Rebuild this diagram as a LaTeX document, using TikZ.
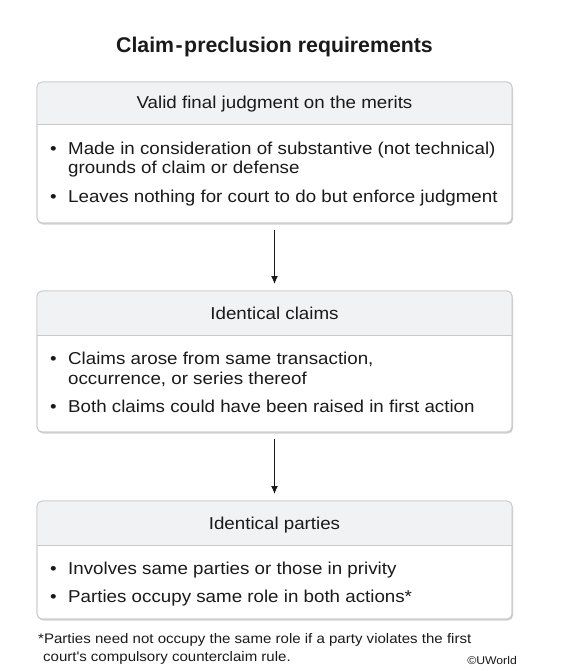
\documentclass[tikz,border=0pt]{standalone}
\usepackage{fontspec}
\setmainfont{Liberation Sans}
\newfontfamily\widefont{Liberation Sans}[FakeStretch=1.09]
\usetikzlibrary{shadows,arrows.meta}
\definecolor{headfill}{HTML}{F1F2F4}
\definecolor{boxline}{HTML}{C9C9C9}
\definecolor{txt}{HTML}{1A1A1A}
\tikzset{
  x=1pt, y=-1pt,
  boxshape/.style={draw=boxline, line width=0.8pt, fill=white, rounded corners=5pt,
    drop shadow={opacity=0.35, shadow xshift=1pt, shadow yshift=-1.5pt}},
  bodytext/.style={anchor=base west, inner sep=0pt, font=\widefont\fontsize{17.2}{20}\selectfont, text=txt},
  headtext/.style={anchor=base, inner sep=0pt, font=\widefont\fontsize{17.2}{20}\selectfont, text=txt},
  bul/.style={anchor=base west, inner sep=0pt, font=\widefont\fontsize{17.2}{20}\selectfont, text=txt},
  arr/.style={-{Latex[length=8pt,width=7pt]}, line width=1pt, draw=txt},
  foot/.style={anchor=base west, inner sep=0pt, font=\widefont\fontsize{13.8}{15}\selectfont, text=txt},
}
\newcommand{\mybox}[4]{% name, top, headbottom, bottom
  \path[boxshape] (37,#2) rectangle (512,#4);
  \begin{scope}
    \clip[rounded corners=5pt] (37,#2) rectangle (512,#4);
    \fill[headfill] (37,#2) rectangle (512,#3);
  \end{scope}
  \draw[boxline, line width=0.8pt] (37,#3) -- (512,#3);
  \node[draw=boxline, line width=0.8pt, rounded corners=5pt, inner sep=0pt, outer sep=0pt,
        minimum width=475pt, minimum height=#4-#2 pt, anchor=north west] (#1) at (37,#2) {};
}
\begin{document}
\begin{tikzpicture}
\useasboundingbox[fill=white] (0,0) rectangle (562,671);
\node[anchor=base, inner sep=0pt, font=\bfseries\fontsize{21.3}{24}\selectfont, text=txt] (title) at (274.5,53) {Claim\kern1.5pt-\kern1.5pt preclusion requirements};

\mybox{b1}{82}{124}{223}
\node[headtext] (h1) at (274.5,109) {Valid final judgment on the merits};
\node[bul] (u11) at (50,154) {•};
\node[bodytext] (l11) at (68,154) {Made in consideration of substantive (not technical)};
\node[bodytext] (l12) at (68,174) {grounds of claim or defense};
\node[bul] (u12) at (50,202) {•};
\node[bodytext] (l13) at (68,202) {Leaves nothing for court to do but enforce judgment};

\mybox{b2}{291}{335}{432}
\node[headtext] (h2) at (274.5,319) {Identical claims};
\node[bul] (u21) at (50,364) {•};
\node[bodytext] (l21) at (68,364) {Claims arose from same transaction,};
\node[bodytext] (l22) at (68,384) {occurrence, or series thereof};
\node[bul] (u22) at (50,412) {•};
\node[bodytext] (l23) at (68,412) {Both claims could have been raised in first action};

\mybox{b3}{501}{545}{619}
\node[headtext] (h3) at (274.5,529) {Identical parties};
\node[bul] (u31) at (50,574) {•};
\node[bodytext] (l31) at (68,574) {Involves same parties or those in privity};
\node[bul] (u32) at (50,602) {•};
\node[bodytext] (l32) at (68,602) {Parties occupy same role in both actions*};

\draw[arr] ([yshift=-7pt]b1.south -| 274.5,0) -- ([yshift=7pt]b2.north -| 274.5,0);
\draw[arr] ([yshift=-7pt]b2.south -| 274.5,0) -- ([yshift=7pt]b3.north -| 274.5,0);

\node[foot] (f1) at (38,643) {*Parties need not occupy the same role if a party violates the first};
\node[foot] (f2) at (43,661.5) {court\textquotesingle s compulsory counterclaim rule.};
\node[anchor=base east, inner sep=0pt, font=\widefont\fontsize{11.2}{13}\selectfont, text=txt] (cr) at (517,664) {©UWorld};
\end{tikzpicture}
\end{document}
